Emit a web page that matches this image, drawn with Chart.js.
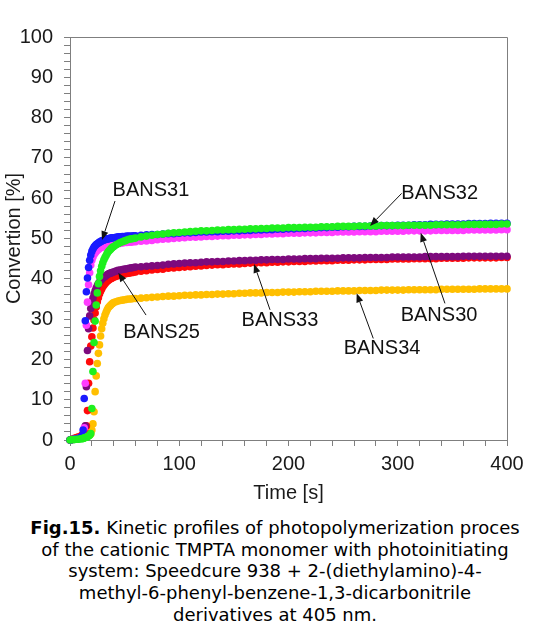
<!DOCTYPE html>
<html>
<head>
<meta charset="utf-8">
<script src="https://cdn.jsdelivr.net/npm/chart.js@4.4.1/dist/chart.umd.min.js"></script>
<style>
  html, body { margin: 0; padding: 0; background: #ffffff; }
  #wrap { position: relative; width: 550px; height: 631px; }
  #plot { position: absolute; left: 0; top: 0; }
  #caption {
    position: absolute; left: 0; top: 517px; width: 550px;
    text-align: center; font-family: "DejaVu Sans", Verdana, sans-serif;
    font-size: 18px; line-height: 21.7px; color: #000;
  }
</style>
</head>
<body>
<div id="wrap">
  <canvas id="plot" width="550" height="505"></canvas>
  <div id="caption"><b>Fig.15.</b> Kinetic profiles of photopolymerization proces<br>of the cationic TMPTA monomer with photoinitiating<br>system: Speedcure 938 + 2-(diethylamino)-4-<br>methyl-6-phenyl-benzene-1,3-dicarbonitrile<br>derivatives at 405 nm.</div>
</div>
<script>
// Irradiation time [s] shared by all series
const time = [0, 2, 4, 6, 8, 10,
  11, 12, 13, 14, 15, 16, 17, 18, 19, 20,
  21, 22, 23, 24, 25, 26, 27, 28, 29, 30,
  31, 32, 33, 34, 35, 36, 37, 38, 39, 40,
  42, 44, 46, 48, 50, 52, 54, 56, 58, 60,
  65, 70, 75, 80, 85, 90, 95, 100, 105, 110,
  115, 120, 125, 130, 135, 140, 145, 150, 155, 160,
  165, 170, 175, 180, 185, 190, 195, 200, 205, 210,
  215, 220, 225, 230, 235, 240, 245, 250, 255, 260,
  265, 270, 275, 280, 285, 290, 295, 300, 305, 310,
  315, 320, 325, 330, 335, 340, 345, 350, 355, 360,
  365, 370, 375, 380, 385, 390, 395, 400];

// Conversion [%] for each photoinitiator
const bans31 = [0, 0.1, 0.2, 0.3, 0.4, 0.6,
  1.0, 2.5, 10.3, 29.6, 36.8, 40.2, 42.8, 44.6, 45.9, 46.8,
  47.4, 47.9, 48.2, 48.5, 48.7, 48.9, 49.1, 49.2, 49.4, 49.5,
  49.6, 49.7, 49.8, 49.9, 49.9, 50.0, 50.1, 50.1, 50.2, 50.2,
  50.3, 50.4, 50.4, 50.5, 50.5, 50.6, 50.6, 50.6, 50.7, 50.7,
  50.8, 50.9, 51.0, 51.0, 51.1, 51.2, 51.2, 51.3, 51.4, 51.4,
  51.5, 51.6, 51.6, 51.7, 51.7, 51.8, 51.8, 51.9, 51.9, 52.0,
  52.0, 52.1, 52.1, 52.2, 52.2, 52.3, 52.3, 52.4, 52.4, 52.5,
  52.5, 52.6, 52.6, 52.7, 52.7, 52.8, 52.8, 52.9, 52.9, 53.0,
  53.0, 53.0, 53.1, 53.1, 53.2, 53.2, 53.2, 53.3, 53.3, 53.3,
  53.4, 53.4, 53.4, 53.5, 53.5, 53.5, 53.6, 53.6, 53.6, 53.6,
  53.7, 53.7, 53.7, 53.7, 53.8, 53.8, 53.8, 53.8];

const bans32 = [0, 0.1, 0.1, 0.2, 0.2, 0.3,
  0.3, 0.4, 0.5, 0.6, 0.7, 0.8, 1.0, 1.2, 1.6, 7.8,
  17.0, 24.2, 29.5, 33.5, 36.5, 38.8, 40.6, 42.0, 43.1, 44.0,
  44.7, 45.3, 45.8, 46.3, 46.7, 47.0, 47.3, 47.6, 47.8, 48.0,
  48.4, 48.7, 49.0, 49.2, 49.4, 49.6, 49.8, 49.9, 50.0, 50.1,
  50.4, 50.6, 50.8, 51.0, 51.1, 51.3, 51.4, 51.5, 51.6, 51.7,
  51.8, 51.9, 51.9, 52.0, 52.1, 52.1, 52.2, 52.2, 52.3, 52.3,
  52.4, 52.4, 52.5, 52.5, 52.6, 52.6, 52.6, 52.7, 52.7, 52.7,
  52.8, 52.8, 52.8, 52.9, 52.9, 52.9, 53.0, 53.0, 53.0, 53.0,
  53.1, 53.1, 53.1, 53.1, 53.2, 53.2, 53.2, 53.2, 53.2, 53.3,
  53.3, 53.3, 53.3, 53.3, 53.4, 53.4, 53.4, 53.4, 53.4, 53.4,
  53.5, 53.5, 53.5, 53.5, 53.5, 53.5, 53.6, 53.6];

const bans30 = [0, 0.1, 0.2, 0.3, 0.4, 0.5,
  0.7, 1.0, 3.0, 14.1, 28.5, 34.2, 38.5, 41.5, 43.4, 44.6,
  45.4, 46.0, 46.4, 46.8, 47.1, 47.3, 47.5, 47.7, 47.8, 47.9,
  48.0, 48.1, 48.2, 48.3, 48.3, 48.4, 48.5, 48.5, 48.6, 48.6,
  48.7, 48.8, 48.8, 48.9, 49.0, 49.0, 49.1, 49.1, 49.2, 49.2,
  49.3, 49.4, 49.5, 49.7, 49.8, 49.9, 50.0, 50.1, 50.2, 50.3,
  50.3, 50.4, 50.5, 50.5, 50.6, 50.7, 50.7, 50.8, 50.8, 50.9,
  50.9, 51.0, 51.0, 51.1, 51.1, 51.2, 51.2, 51.3, 51.3, 51.3,
  51.4, 51.4, 51.4, 51.5, 51.5, 51.5, 51.6, 51.6, 51.6, 51.6,
  51.7, 51.7, 51.7, 51.7, 51.8, 51.8, 51.8, 51.8, 51.8, 51.9,
  51.9, 51.9, 51.9, 51.9, 52.0, 52.0, 52.0, 52.0, 52.0, 52.0,
  52.1, 52.1, 52.1, 52.1, 52.1, 52.1, 52.2, 52.2];

const bans25 = [0, 0.1, 0.2, 0.3, 0.4, 0.5,
  0.6, 0.8, 1.0, 3.5, 13.2, 22.2, 27.6, 30.8, 32.6, 34.0,
  35.2, 36.2, 37.0, 37.7, 38.3, 38.8, 39.2, 39.6, 39.9, 40.2,
  40.4, 40.6, 40.8, 41.0, 41.2, 41.3, 41.4, 41.5, 41.6, 41.7,
  41.9, 42.1, 42.2, 42.3, 42.4, 42.5, 42.6, 42.7, 42.8, 42.9,
  43.0, 43.1, 43.2, 43.3, 43.4, 43.6, 43.7, 43.8, 43.9, 44.0,
  44.0, 44.1, 44.2, 44.2, 44.3, 44.3, 44.4, 44.4, 44.5, 44.5,
  44.6, 44.6, 44.7, 44.7, 44.8, 44.8, 44.8, 44.9, 44.9, 44.9,
  45.0, 45.0, 45.0, 45.1, 45.1, 45.1, 45.1, 45.2, 45.2, 45.2,
  45.2, 45.3, 45.3, 45.3, 45.3, 45.3, 45.4, 45.4, 45.4, 45.4,
  45.4, 45.4, 45.5, 45.5, 45.5, 45.5, 45.5, 45.5, 45.5, 45.6,
  45.6, 45.6, 45.6, 45.6, 45.6, 45.6, 45.6, 45.6];

const bans33 = [0, 0.2, 0.4, 0.6, 0.8, 1.0,
  1.2, 1.4, 1.6, 1.9, 3.5, 7.3, 14.1, 19.4, 23.3, 25.6,
  27.8, 29.8, 31.5, 33.0, 34.3, 35.3, 36.2, 36.9, 37.5, 38.0,
  38.4, 38.8, 39.1, 39.4, 39.6, 39.8, 40.0, 40.1, 40.3, 40.4,
  40.6, 40.8, 40.9, 41.1, 41.2, 41.3, 41.4, 41.5, 41.6, 41.7,
  41.9, 42.0, 42.2, 42.3, 42.4, 42.6, 42.7, 42.8, 42.9, 43.0,
  43.1, 43.2, 43.3, 43.4, 43.5, 43.5, 43.6, 43.7, 43.7, 43.8,
  43.9, 43.9, 44.0, 44.0, 44.1, 44.1, 44.2, 44.2, 44.3, 44.3,
  44.3, 44.4, 44.4, 44.5, 44.5, 44.5, 44.6, 44.6, 44.6, 44.7,
  44.7, 44.7, 44.8, 44.8, 44.8, 44.8, 44.9, 44.9, 44.9, 44.9,
  45.0, 45.0, 45.0, 45.0, 45.0, 45.1, 45.1, 45.1, 45.1, 45.1,
  45.2, 45.2, 45.2, 45.2, 45.2, 45.2, 45.3, 45.3];

const bans34 = [0, 0.1, 0.2, 0.3, 0.4, 0.5,
  0.6, 0.7, 0.8, 0.9, 1.0, 1.1, 1.2, 1.3, 1.5, 2.5,
  4.0, 7.0, 12.0, 15.9, 19.0, 21.5, 23.6, 25.8, 27.6, 29.0,
  30.1, 31.0, 31.7, 32.3, 32.8, 33.1, 33.4, 33.7, 33.9, 34.1,
  34.3, 34.5, 34.6, 34.7, 34.8, 34.9, 35.0, 35.0, 35.1, 35.1,
  35.2, 35.3, 35.4, 35.5, 35.6, 35.7, 35.7, 35.8, 35.9, 35.9,
  36.0, 36.0, 36.1, 36.1, 36.2, 36.2, 36.3, 36.3, 36.4, 36.4,
  36.5, 36.5, 36.5, 36.6, 36.6, 36.6, 36.7, 36.7, 36.7, 36.8,
  36.8, 36.8, 36.9, 36.9, 36.9, 36.9, 37.0, 37.0, 37.0, 37.0,
  37.1, 37.1, 37.1, 37.1, 37.2, 37.2, 37.2, 37.2, 37.2, 37.3,
  37.3, 37.3, 37.3, 37.3, 37.3, 37.4, 37.4, 37.4, 37.4, 37.4,
  37.4, 37.4, 37.5, 37.5, 37.5, 37.5, 37.5, 37.5];

// Axis tick settings
const xTickLabels = [0, 100, 200, 300, 400];
const yTickLabels = [0, 10, 20, 30, 40, 50, 60, 70, 80, 90, 100];

// Callout labels: text anchor, arrow start and arrow tip in data units
const calloutNames = ['BANS31', 'BANS32', 'BANS30', 'BANS33', 'BANS34', 'BANS25'];
const calloutText  = [[74.1, 61.8], [338.4, 61.2], [337.8, 31.0], [192.2, 29.7], [285.6, 22.6], [83.8, 26.8]];
const calloutFrom  = [[41.2, 59.3], [303.6, 61.2], [343.2, 33.9], [183.1, 32.3], [277.6, 25.2], [69.6, 31.0]];
const calloutTip   = [[29.3, 49.6], [274.6, 53.1], [321.0, 51.4], [168.4, 43.7], [262.4, 36.4], [44.2, 41.5]];

const pts = (vals) => time.map((t, i) => ({ x: t, y: vals[i] }));

function series(label, vals, color) {
  return {
    label, data: pts(vals),
    backgroundColor: color, borderColor: color,
    pointRadius: 3.8, pointBorderWidth: 0, showLine: false, clip: false
  };
}

const AXIS = '#7f7f7f';
const FONT = '"Liberation Sans", Arial, sans-serif';

const frame = {
  id: 'frame',
  beforeDatasetsDraw(chart) {
    const { ctx, chartArea: a } = chart;
    ctx.save();
    ctx.strokeStyle = AXIS;
    ctx.lineWidth = 1;
    ctx.beginPath();
    ctx.moveTo(a.left, a.top + 0.5);
    ctx.lineTo(a.right + 0.5, a.top + 0.5);
    ctx.lineTo(a.right + 0.5, a.bottom);
    ctx.stroke();
    ctx.restore();
  }
};

const callouts = {
  id: 'callouts',
  afterDatasetsDraw(chart) {
    const { ctx, scales: { x, y } } = chart;
    ctx.save();
    ctx.font = '20px ' + FONT;
    ctx.fillStyle = '#111';
    ctx.strokeStyle = '#111';
    ctx.textAlign = 'center';
    ctx.textBaseline = 'middle';
    calloutNames.forEach((name, i) => {
      const tx = x.getPixelForValue(calloutText[i][0]);
      const ty = y.getPixelForValue(calloutText[i][1]);
      const fx = x.getPixelForValue(calloutFrom[i][0]);
      const fy = y.getPixelForValue(calloutFrom[i][1]);
      const px = x.getPixelForValue(calloutTip[i][0]);
      const py = y.getPixelForValue(calloutTip[i][1]);
      ctx.fillText(name, tx, ty);
      const ang = Math.atan2(py - fy, px - fx);
      const len = 9, half = 3.5;
      const bx = px - len * Math.cos(ang), by = py - len * Math.sin(ang);
      ctx.lineWidth = 1;
      ctx.beginPath();
      ctx.moveTo(fx, fy);
      ctx.lineTo(bx, by);
      ctx.stroke();
      ctx.beginPath();
      ctx.moveTo(px, py);
      ctx.lineTo(bx + half * Math.sin(ang), by - half * Math.cos(ang));
      ctx.lineTo(bx - half * Math.sin(ang), by + half * Math.cos(ang));
      ctx.closePath();
      ctx.fill();
    });
    ctx.restore();
  }
};

new Chart(document.getElementById('plot'), {
  type: 'scatter',
  data: {
    datasets: [
      series('BANS32', bans32, '#1ef01e'),
      series('BANS31', bans31, '#1a1aff'),
      series('BANS30', bans30, '#ff3cff'),
      series('BANS25', bans25, '#7d0a7d'),
      series('BANS33', bans33, '#ff0a0a'),
      series('BANS34', bans34, '#ffbf00')
    ]
  },
  options: {
    responsive: false,
    animation: false,
    events: [],
    layout: { padding: { top: 37, right: 43, left: 0, bottom: 0 } },
    plugins: { legend: { display: false }, tooltip: { enabled: false } },
    scales: {
      x: {
        type: 'linear', min: 0, max: 400,
        afterFit(s) { s.height = 65; },
        grid: { drawOnChartArea: false, drawTicks: true, tickLength: 6, color: AXIS },
        border: { color: AXIS, width: 1 },
        ticks: {
          stepSize: 20, autoSkip: false, maxRotation: 0, padding: 6,
          color: '#1a1a1a', font: { family: FONT, size: 20 },
          callback: (v) => xTickLabels.includes(v) ? String(v) : ''
        },
        title: { display: true, text: 'Time [s]', color: '#1a1a1a',
                 font: { family: FONT, size: 20 }, padding: { top: 0, bottom: 0 } }
      },
      y: {
        type: 'linear', min: 0, max: 100,
        afterFit(s) { s.width = 70; },
        grid: { drawOnChartArea: false, drawTicks: true, tickLength: 6, color: AXIS },
        border: { color: AXIS, width: 1 },
        ticks: {
          stepSize: 2, autoSkip: false, padding: 11,
          color: '#1a1a1a', font: { family: FONT, size: 20 },
          callback: (v) => yTickLabels.includes(v) ? String(v) : ''
        },
        title: { display: true, text: 'Convertion [%]', color: '#1a1a1a',
                 font: { family: FONT, size: 20 }, padding: { top: 2, bottom: 0 } }
      }
    }
  },
  plugins: [frame, callouts]
});
</script>
</body>
</html>
